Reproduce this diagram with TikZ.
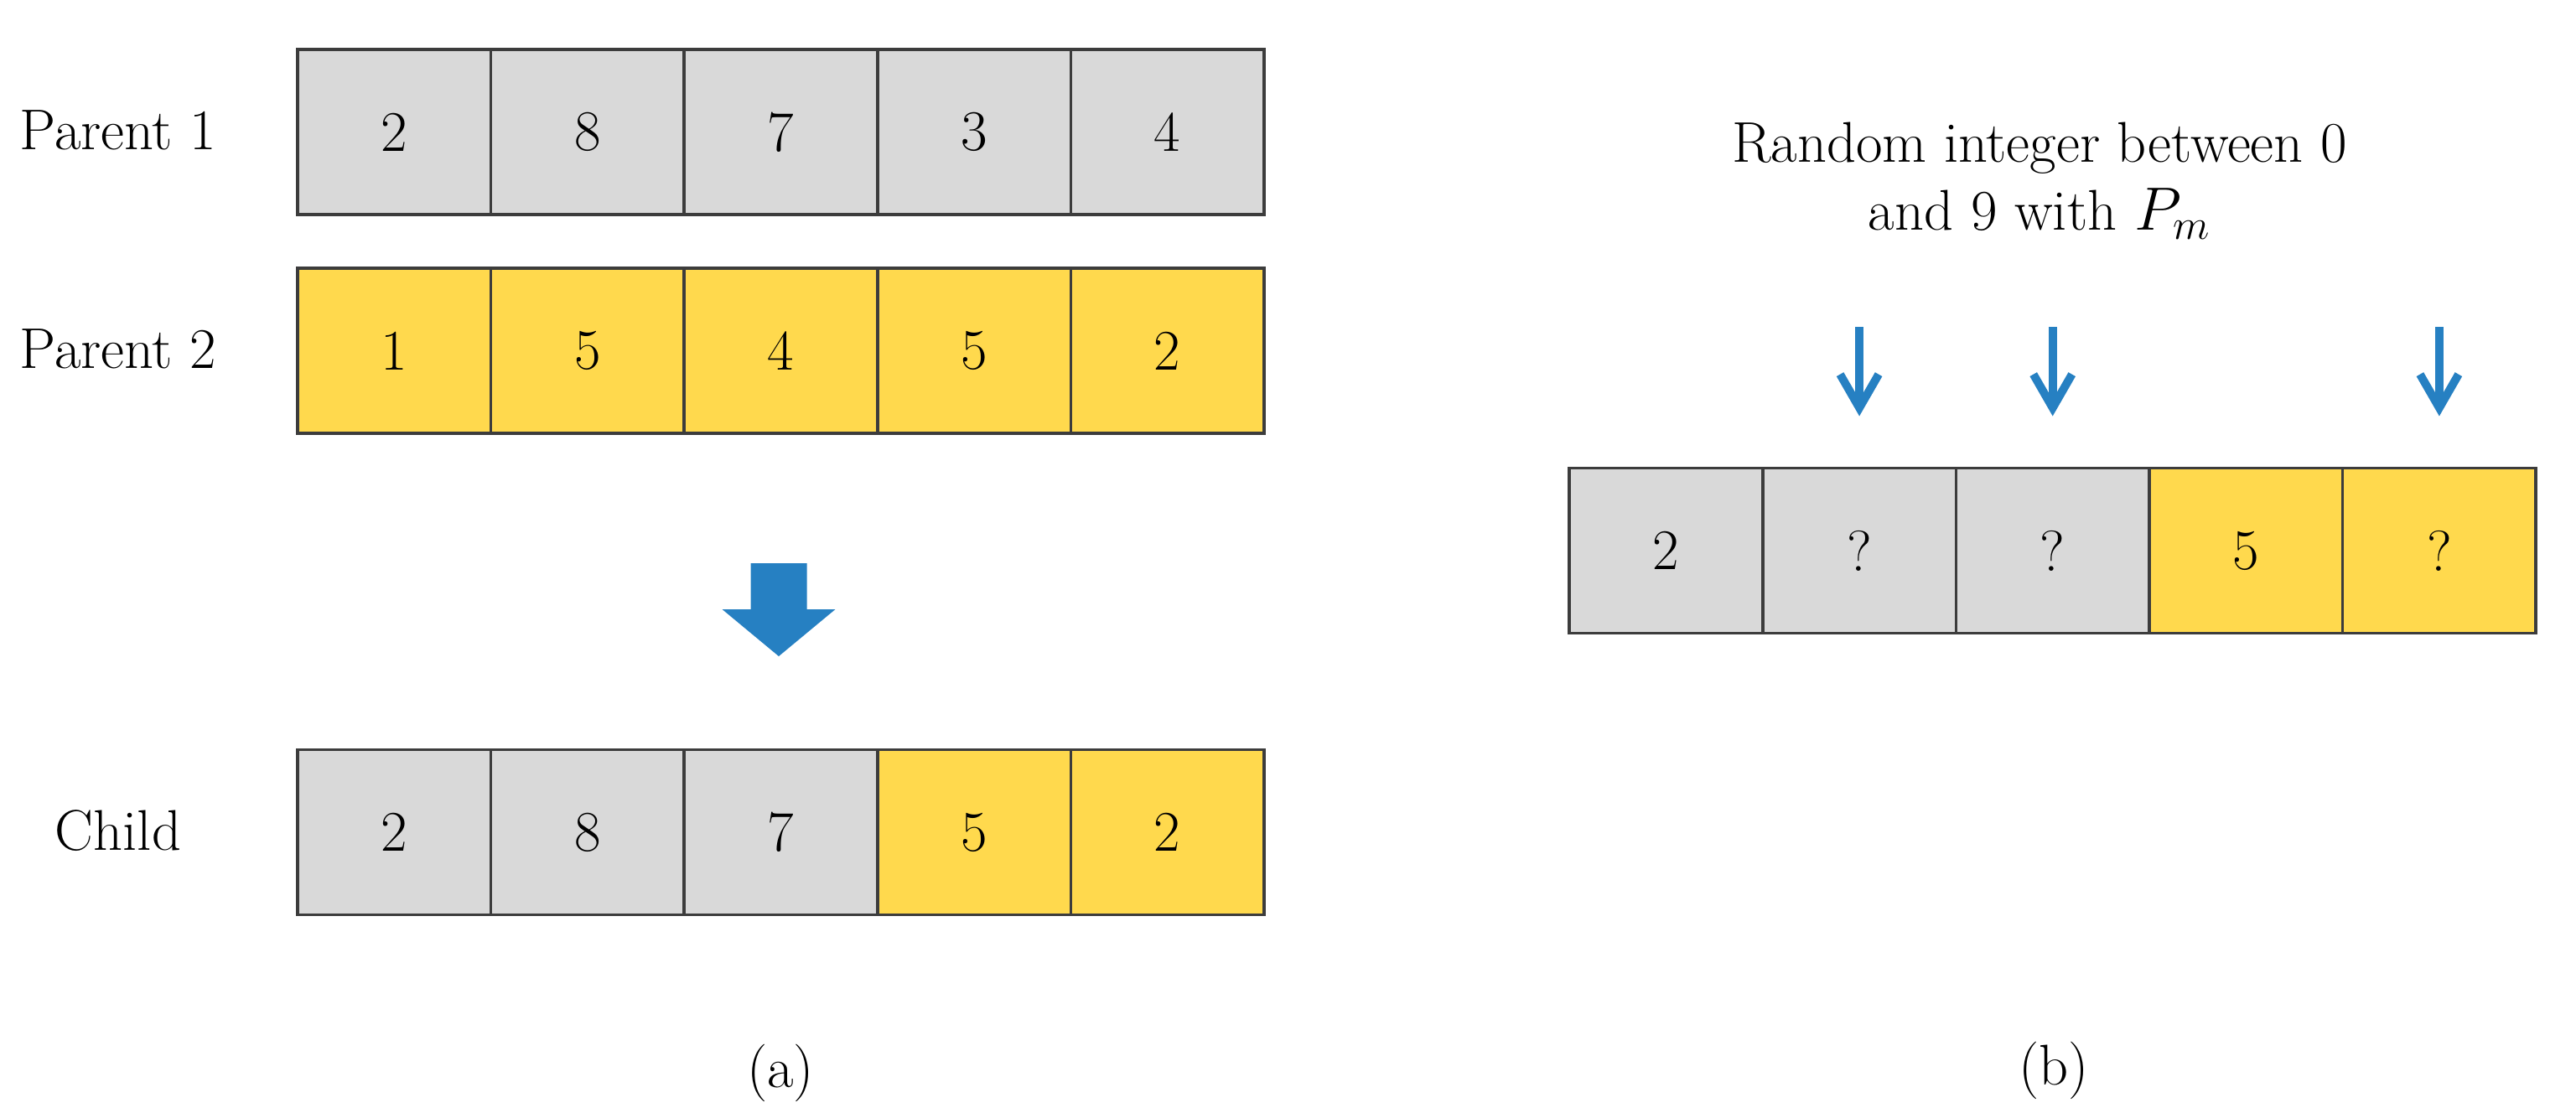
\documentclass[tikz,border=0pt]{standalone}
\usepackage{amsmath}
\usepackage{tikz}
\usetikzlibrary{positioning, calc, arrows.meta}
\definecolor{genegray}{RGB}{217,217,217}
\definecolor{geneyellow}{RGB}{255,217,77}
\definecolor{arrowblue}{RGB}{38,128,194}
\definecolor{cellline}{RGB}{60,60,60}

\tikzset{
  gene/.style={draw=cellline, line width=1pt, minimum width=2.306cm, minimum height=1.97cm,
    inner sep=0pt, outer sep=0pt, font=\fontsize{19.5}{23}\selectfont},
  pgene/.style={gene, fill=genegray},
  ygene/.style={gene, fill=geneyellow},
  lbl/.style={font=\fontsize{19.5}{23}\selectfont},
  mutarrow/.style={draw=arrowblue, line width=2.8pt, shorten >=6.2mm,
    -{Straight Barb[length=4mm,width=4.6mm]}}
}

\begin{document}
\begin{tikzpicture}
      \useasboundingbox (0,0) rectangle (30.73,-13.27);

      \node[lbl] (P1) at (1.41,-1.55) {Parent 1};
      \node[lbl] (P2) at (1.41,-4.16) {Parent 2};
      \node[lbl] (C) at (1.41,-9.91) {Child};

      \node[pgene] (P1a) at (4.703,-1.575) {2};
      \node[pgene] (P1b) at (7.009,-1.575) {8};
      \node[pgene] (P1c) at (9.315,-1.575) {7};
      \node[pgene] (P1d) at (11.621,-1.575) {3};
      \node[pgene] (P1e) at (13.927,-1.575) {4};

      \node[ygene] (P2a) at (4.703,-4.185) {1};
      \node[ygene] (P2b) at (7.009,-4.185) {5};
      \node[ygene] (P2c) at (9.315,-4.185) {4};
      \node[ygene] (P2d) at (11.621,-4.185) {5};
      \node[ygene] (P2e) at (13.927,-4.185) {2};

      \node[pgene] (Ca) at (4.703,-9.93) {2};
      \node[pgene] (Cb) at (7.009,-9.93) {8};
      \node[pgene] (Cc) at (9.315,-9.93) {7};
      \node[ygene] (Cd) at (11.621,-9.93) {5};
      \node[ygene] (Ce) at (13.927,-9.93) {2};

      % crossover arrow
      \fill[arrowblue] (8.955,-6.72) -- (9.625,-6.72) -- (9.625,-7.27) -- (9.965,-7.27)
        -- (9.29,-7.83) -- (8.615,-7.27) -- (8.955,-7.27) -- cycle;

      \node[lbl] (capa) at (9.31,-12.8) {(a)};

      % mutation
      \node[lbl, align=center] (rnd) at (24.33,-2.16) {Random integer between 0\\and 9 with $P_m$};

      \node[pgene] (Ra) at (19.875,-6.57) {2};
      \node[pgene] (Rb) at (22.181,-6.57) {?};
      \node[pgene] (Rc) at (24.487,-6.57) {?};
      \node[ygene] (Rd) at (26.793,-6.57) {5};
      \node[ygene] (Re) at (29.099,-6.57) {?};

      \coordinate (mb) at (22.181,-3.90);
      \coordinate (mc) at (24.487,-3.90);
      \coordinate (me) at (29.099,-3.90);
      \draw[mutarrow] (mb) -- (Rb);
      \draw[mutarrow] (mc) -- (Rc);
      \draw[mutarrow] (me) -- (Re);

      \node[lbl] (capb) at (24.50,-12.77) {(b)};
    \end{tikzpicture}
\end{document}
